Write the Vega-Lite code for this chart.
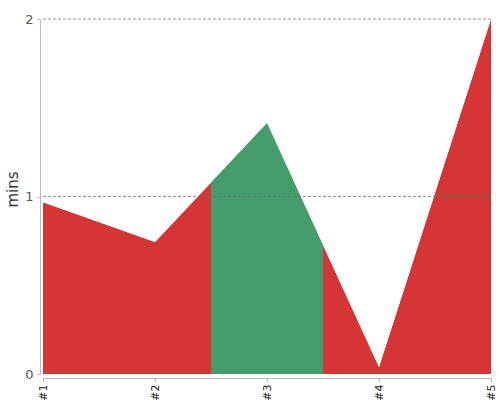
{
  "$schema": "https://vega.github.io/schema/vega-lite/v6.json",
  "autosize": "none",
  "width": 448,
  "height": 355,
  "padding": {"left": 43, "top": 19, "right": 9, "bottom": 26},
  "background": "white",
  "config": {
    "view": {"stroke": null},
    "axisX": {
      "labelAngle": -90,
      "labelFontSize": 11,
      "labelColor": "#222",
      "labelFont": "DejaVu Sans",
      "labelPadding": 2,
      "grid": false,
      "offset": 4,
      "domainColor": "#bbb",
      "tickColor": "#bbb",
      "tickSize": 4,
      "zindex": 1
    },
    "axisY": {
      "titleFontSize": 15,
      "titleFontWeight": "normal",
      "titleColor": "#333",
      "titleFont": "DejaVu Sans",
      "titlePadding": 4,
      "titleY": 170,
      "labelFontSize": 13,
      "labelColor": "#555",
      "labelFont": "DejaVu Sans",
      "labelPadding": 4,
      "labelOverlap": false,
      "offset": 3,
      "domainColor": "#bbb",
      "tickColor": "#bbb",
      "tickSize": 3,
      "grid": false,
      "zindex": 1
    }
  },
  "datasets": {
    "pts": [
      {"n": 1, "mins": 0.967},
      {"n": 2, "mins": 0.744},
      {"n": 3, "mins": 1.414},
      {"n": 4, "mins": 0.04},
      {"n": 5, "mins": 2.0}
    ],
    "band": [{"start": 2.5, "end": 3.5}],
    "grid": [{"g": 1}, {"g": 2}]
  },
  "layer": [
    {
      "data": {"name": "pts"},
      "mark": {"type": "area", "color": "#d63535", "opacity": 1},
      "encoding": {
        "x": {
          "field": "n", "type": "quantitative",
          "scale": {"domain": [1, 5], "nice": false, "zero": false},
          "axis": {"values": [1, 2, 3, 4, 5], "labelExpr": "'#' + datum.value", "title": null}
        },
        "y": {
          "field": "mins", "type": "quantitative",
          "scale": {"domain": [0, 2], "nice": false},
          "axis": {"values": [0, 1, 2], "labelExpr": "datum.value", "title": "mins"}
        }
      }
    },
    {
      "data": {"name": "band"},
      "mark": {"type": "rect", "color": "#459d6d"},
      "encoding": {
        "x": {"field": "start", "type": "quantitative",
              "axis": {"values": [1, 2, 3, 4, 5], "labelExpr": "'#' + datum.value", "title": null}},
        "x2": {"field": "end"},
        "y": {"datum": 0,
              "axis": {"values": [0, 1, 2], "labelExpr": "datum.value", "title": "mins"}},
        "y2": {"datum": 2}
      }
    },
    {
      "data": {"name": "pts"},
      "mark": {"type": "area", "color": "white", "opacity": 1},
      "encoding": {
        "x": {"field": "n", "type": "quantitative",
              "axis": {"values": [1, 2, 3, 4, 5], "labelExpr": "'#' + datum.value", "title": null}},
        "y": {"field": "mins", "type": "quantitative",
              "axis": {"values": [0, 1, 2], "labelExpr": "datum.value", "title": "mins"}},
        "y2": {"datum": 2}
      }
    },
    {
      "data": {"name": "grid"},
      "mark": {"type": "rule", "color": "#666", "strokeDash": [3, 2], "strokeWidth": 1, "opacity": 0.7},
      "encoding": {
        "y": {"field": "g", "type": "quantitative",
              "axis": {"values": [0, 1, 2], "labelExpr": "datum.value", "title": "mins"}}
      }
    }
  ]
}
